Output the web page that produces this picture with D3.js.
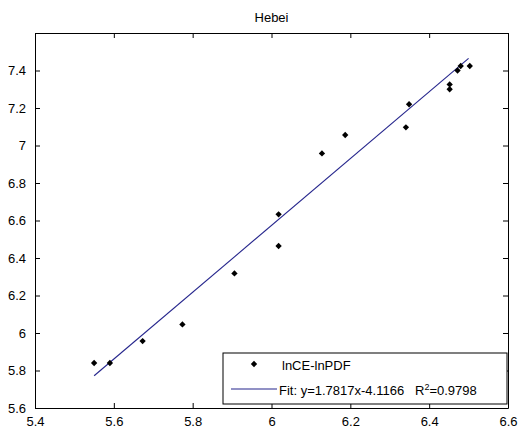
<!DOCTYPE html>
<html>
<head>
<meta charset="utf-8">
<script src="https://cdn.jsdelivr.net/npm/d3@7"></script>
<style>
  body { margin: 0; background: #fff; }
  text { font-family: "Liberation Sans", Arial, sans-serif; fill: #000; }
</style>
</head>
<body>
<svg></svg>
<script>
const size = {w: 525, h: 433};
const margin = {t: 33, r: 17, b: 25, l: 35};

// observed points (lnCE, lnPDF)
const lnCE  = [5.55, 5.59, 5.673, 5.774, 5.906, 6.018, 6.018, 6.128, 6.187, 6.341, 6.349, 6.452, 6.452, 6.472, 6.48, 6.503];
const lnPDF = [5.84, 5.84, 5.957, 6.046, 6.318, 6.464, 6.633, 6.958, 7.056, 7.097, 7.22, 7.30, 7.326, 7.40, 7.424, 7.424];

const slope = 1.7817, intercept = -4.1166;
const fitX = [5.55, 6.5];

const xTicks = [5.4, 5.6, 5.8, 6, 6.2, 6.4, 6.6];
const yTicks = [5.6, 5.8, 6, 6.2, 6.4, 6.6, 6.8, 7, 7.2, 7.4];

const svg = d3.select('svg')
    .attr('width', size.w)
    .attr('height', size.h);

const x = d3.scaleLinear().domain([5.4, 6.6]).range([margin.l, size.w - margin.r]);
const y = d3.scaleLinear().domain([5.6, 7.6]).range([size.h - margin.b, margin.t]);

const fmt = d => String(d);

// axes with inward ticks on all sides
svg.append('g')
    .attr('transform', `translate(0,${y(5.6)})`)
    .call(d3.axisBottom(x).tickValues(xTicks).tickFormat(fmt).tickSizeInner(-5).tickSizeOuter(0).tickPadding(9))
    .call(g => g.selectAll('text').attr('font-size', 13));
svg.append('g')
    .attr('transform', `translate(0,${y(7.6)})`)
    .call(d3.axisTop(x).tickValues(xTicks).tickFormat('').tickSizeInner(-5).tickSizeOuter(0));
svg.append('g')
    .attr('transform', `translate(${x(5.4)},0)`)
    .call(d3.axisLeft(y).tickValues(yTicks).tickFormat(fmt).tickSizeInner(-5).tickSizeOuter(0).tickPadding(9))
    .call(g => g.selectAll('text').attr('font-size', 13));
svg.append('g')
    .attr('transform', `translate(${x(6.6)},0)`)
    .call(d3.axisRight(y).tickValues(yTicks).tickFormat('').tickSizeInner(-5).tickSizeOuter(0));

svg.selectAll('.domain').attr('stroke', '#000');
svg.selectAll('.tick line').attr('stroke', '#000');

// title
svg.append('text')
    .attr('x', (x(5.4) + x(6.6)) / 2)
    .attr('y', 22)
    .attr('text-anchor', 'middle')
    .attr('font-size', 13)
    .text('Hebei');

// fit line
svg.append('line')
    .attr('x1', x(fitX[0])).attr('y1', y(slope * fitX[0] + intercept))
    .attr('x2', x(fitX[1])).attr('y2', y(slope * fitX[1] + intercept))
    .attr('stroke', '#25258c')
    .attr('stroke-width', 1.1);

// points: small rotated squares
const marker = d3.symbol().type(d3.symbolSquare).size(20);
svg.append('g').selectAll('path')
    .data(lnCE.map((v, i) => [v, lnPDF[i]]))
    .join('path')
    .attr('d', marker)
    .attr('transform', d => `translate(${x(d[0])},${y(d[1])}) rotate(45)`)
    .attr('fill', '#000');

// legend
const lg = svg.append('g');
lg.append('rect')
    .attr('x', 223).attr('y', 353)
    .attr('width', 284).attr('height', 51)
    .attr('fill', '#fff').attr('stroke', '#000');
lg.append('path')
    .attr('d', marker)
    .attr('transform', 'translate(254,364) rotate(45)')
    .attr('fill', '#000');
lg.append('text')
    .attr('x', 282).attr('y', 370)
    .attr('font-size', 13)
    .text('lnCE-lnPDF');
lg.append('line')
    .attr('x1', 231).attr('x2', 277)
    .attr('y1', 389).attr('y2', 389)
    .attr('stroke', '#25258c')
    .attr('stroke-width', 1.1);
const t2 = lg.append('text')
    .attr('x', 279).attr('y', 395)
    .attr('font-size', 13)
    .attr('xml:space', 'preserve');
t2.append('tspan').text('Fit: y=1.7817x-4.1166   R');
t2.append('tspan').attr('font-size', 9).attr('dy', -5).text('2');
t2.append('tspan').attr('dy', 5).text('=0.9798');
</script>
</body>
</html>
